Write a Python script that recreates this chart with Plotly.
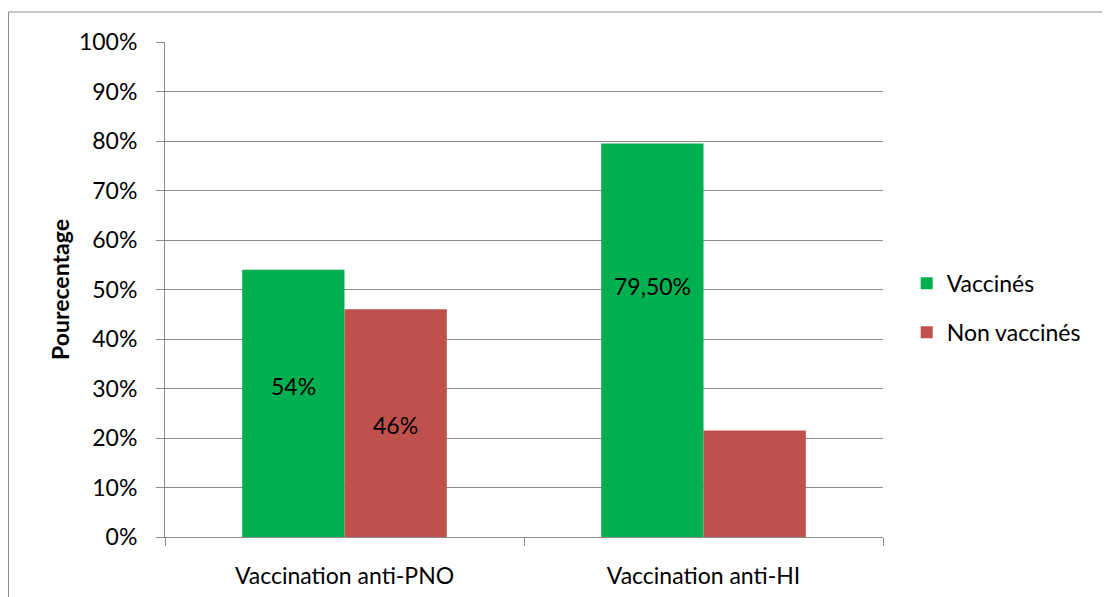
import plotly.graph_objects as go

categories = ["Vaccination anti-PNO", "Vaccination anti-HI"]
vaccines = [0.54, 0.795]
non_vaccines = [0.46, 0.215]
vacc_labels = ["54%", "79,50%"]
non_vacc_labels = ["46%", ""]
y_ticks = [i / 10 for i in range(11)]
y_tick_text = [f"{i * 10}%" for i in range(11)]

FONT = "Lato"
FS = 23
# page offset (browser default body margin)
OFF = 8
W, H = 1110 - OFF, 597 - OFF
L, R, T, B = 165 - OFF, 227, 42 - OFF, 60
PW, PH = W - L - R, H - T - B

fig = go.Figure()
fig.add_trace(go.Bar(
    x=categories, y=vaccines, name="Vaccinés", marker_color="#00B050",
    legendgroup="a", marker_line_width=0,
))
fig.add_trace(go.Bar(
    x=categories, y=non_vaccines, name="Non vaccinés", marker_color="#C0504D",
    legendgroup="b", marker_line_width=0,
))

# data labels (positioned like the original)
label_y = {("v", 0): 0.305, ("v", 1): 0.507, ("n", 0): 0.227}
for i, c in enumerate(categories):
    if vacc_labels[i]:
        fig.add_annotation(x=c, y=label_y[("v", i)], xref="x", yref="y",
                           text=vacc_labels[i], showarrow=False, xshift=-51,
                           font=dict(family=FONT, size=FS, color="black"))
    if non_vacc_labels[i]:
        fig.add_annotation(x=c, y=label_y[("n", i)], xref="x", yref="y",
                           text=non_vacc_labels[i], showarrow=False, xshift=51,
                           font=dict(family=FONT, size=FS, color="black"))

fig.update_layout(
    width=W, height=H,
    margin=dict(l=L, r=R, t=T, b=B, pad=0, autoexpand=False),
    paper_bgcolor="white", plot_bgcolor="white",
    barmode="group", bargap=0.43, bargroupgap=0,
    font=dict(family=FONT, size=FS, color="black"),
    showlegend=True,
    legend=dict(x=1.033, y=0.463, xanchor="left", yanchor="middle",
                traceorder="grouped", tracegroupgap=16,
                font=dict(family=FONT, size=FS, color="black"),
                itemwidth=30, bgcolor="rgba(0,0,0,0)"),
    xaxis=dict(type="category", tickson="boundaries", ticks="outside",
               ticklen=8, tickcolor="#8C8C8C", showline=True,
               linecolor="#8C8C8C", linewidth=1, showgrid=False,
               ticklabelstandoff=18, automargin=False,
               tickfont=dict(family=FONT, size=FS, color="black")),
    yaxis=dict(range=[0, 1], tickvals=y_ticks, ticktext=y_tick_text,
               ticks="outside", ticklen=8, tickcolor="#8C8C8C",
               showline=True, linecolor="#8C8C8C", linewidth=1,
               showgrid=True, gridcolor="#8C8C8C", gridwidth=1,
               zeroline=False, ticklabelstandoff=14, automargin=False,
               tickfont=dict(family=FONT, size=FS, color="black"),
               title=dict(text="<b>Pourecentage</b>", standoff=2,
                          font=dict(family=FONT, size=FS, color="black"))),
)

# outer chart frame
fig.add_shape(type="rect", xref="paper", yref="paper",
              x0=(0.5 - L) / PW, x1=(1114 - OFF - L) / PW,
              y0=-(610 - OFF - (H - B)) / PH, y1=(H - B - (12 - OFF)) / PH,
              line=dict(color="#8C8C8C", width=1), fillcolor="rgba(0,0,0,0)",
              layer="below")

fig.write_html("out.html")
